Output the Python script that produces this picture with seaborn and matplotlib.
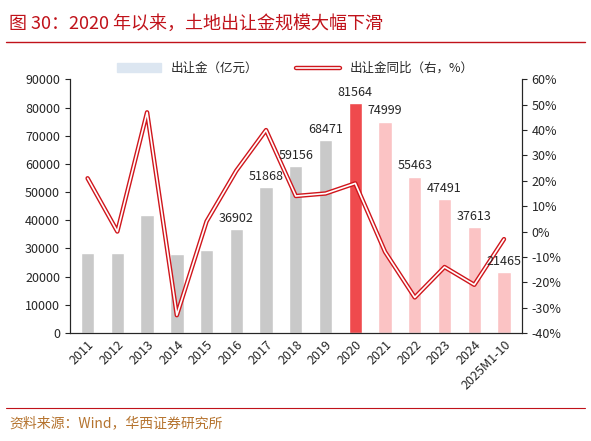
import numpy as np
import pandas as pd
import seaborn as sns
from matplotlib import pyplot as plt
from matplotlib.lines import Line2D
from matplotlib.patches import Patch
import matplotlib.patheffects as pe

sns.set_style("white")
plt.rcParams['font.family'] = ['Noto Sans CJK SC', 'DejaVu Sans']

years = ['2011', '2012', '2013', '2014', '2015', '2016', '2017', '2018', '2019',
         '2020', '2021', '2022', '2023', '2024', '2025M1-10']
sales = [28500, 28500, 42000, 28000, 29500, 36902, 51868, 59156, 68471,
         81564, 74999, 55463, 47491, 37613, 21465]
yoy = [21, 0, 47, -33, 4, 24, 40, 14, 15, 19, -8, -26, -14, -21, -3]
shown = {'2016', '2017', '2018', '2019', '2020', '2021', '2022', '2023', '2024', '2025M1-10'}

colors = ['#c9c9c9'] * 9 + ['#ef4a4d'] + ['#fbc3c4'] * 5
df = pd.DataFrame({'year': years, 'sales': sales})

fig = plt.figure(figsize=(5.91, 4.41), dpi=100)
ax = fig.add_axes([0.118, 0.245, 0.765, 0.575])
sns.barplot(data=df, x='year', y='sales', hue='year', palette=colors, legend=False,
            width=0.45, saturation=1, ax=ax)
ax.set_ylim(0, 90000)
ax.set_yticks(range(0, 90001, 10000))
ax.set_xlabel('')
ax.set_ylabel('')
ax.tick_params(axis='x', rotation=45, labelsize=9, length=0)
ax.tick_params(axis='y', labelsize=9)
for lab in ax.get_xticklabels():
    lab.set_ha('right')
    lab.set_rotation_mode('anchor')
ax.spines['top'].set_visible(False)

ax2 = ax.twinx()
ax2.plot(range(len(years)), yoy, color='white', lw=1.2,
         path_effects=[pe.Stroke(linewidth=3.2, foreground='#d0161c'), pe.Normal()])
ax2.set_ylim(-40, 60)
ax2.set_yticks(range(-40, 61, 10))
ax2.set_yticklabels([f'{t}%' for t in range(-40, 61, 10)], fontsize=9)
ax2.spines['top'].set_visible(False)
ax.set_xlim(-0.6, len(years) - 0.4)
for i, (y, v) in enumerate(zip(years, sales)):
    if y in shown:
        ax2.text(i, (v + 1500) / 900 - 40, str(v), ha='center', va='bottom', fontsize=9)

handles = [Patch(color='#dce6f1'),
           Line2D([], [], color='white', lw=1.2,
                  path_effects=[pe.Stroke(linewidth=3.2, foreground='#d0161c'), pe.Normal()])]
fig.legend(handles, ['出让金（亿元）', '出让金同比（右，%）'], loc='upper center',
           bbox_to_anchor=(0.5, 0.885), ncol=2, frameon=False, fontsize=9,
           handlelength=3.5, columnspacing=3)

fig.text(0.015, 0.945, '图 30：2020 年以来，土地出让金规模大幅下滑', fontsize=13,
         color='#c0121a', va='center')
fig.add_artist(Line2D([0.01, 0.99], [0.905, 0.905], color='#c0121a', lw=1))
fig.add_artist(Line2D([0.01, 0.99], [0.075, 0.075], color='#c0121a', lw=0.8))
fig.text(0.015, 0.04, '资料来源：Wind，华西证券研究所', fontsize=10, color='#b5732e',
         va='center')
fig.savefig('out.png', dpi=100)
